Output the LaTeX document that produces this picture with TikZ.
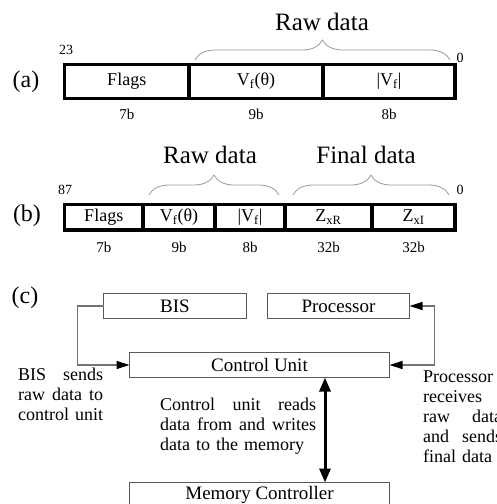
\documentclass[tikz,border=0pt]{standalone}
\usepackage{fontspec}
\setmainfont{Liberation Serif}
\usetikzlibrary{
    positioning,
    arrows.meta,
    decorations.pathreplacing
}
\tikzset{
  cell/.style = {
      draw,
      line width=3.5pt,
      inner sep=0pt,
      outer sep=0pt,
      font=\fontsize{18}{20}\selectfont
  },
  block/.style = {
      draw=black!65,
      line width=1.2pt,
      minimum height=25pt,
      inner sep=0pt,
      outer sep=0pt,
      font=\fontsize{19}{20}\selectfont
  },
  tag/.style = {
      font=\fontsize{24}{26}\selectfont
  },
  bits/.style = {
      inner sep=0pt,
      font=\fontsize{15}{16}\selectfont
  },
  index/.style = {
      inner sep=0pt,
      font=\fontsize{14}{15}\selectfont
  },
  title/.style = {
      font=\fontsize{25}{27}\selectfont
  },
  group/.style = {
      draw=black!40,
      line width=0.8pt,
      decorate,
      decoration={brace, amplitude=20pt}
  },
  note/.style = {
      inner sep=0pt,
      align=left,
      font=\fontsize{18}{20}\selectfont
  },
  link/.style = {
      draw=black!55,
      line width=1.2pt,
      >={Triangle[length=13pt, width=8pt, color=black]}
  },
  bus/.style = {
      line width=3pt,
      >={Triangle[length=14pt, width=11pt]}
  }
}

\begin{document}
\begin{tikzpicture}[x=1pt, y=-1pt]
    \clip (0,0) rectangle (496,504);
    % (a) 24 bit word
    \node[tag] (atag) at (26,82) {(a)};
    \node[cell, minimum width=124.5pt, minimum height=33.7pt] (aflags) at (126.75,81.4) {Flags};
    \node[cell, minimum width=134pt, minimum height=33.7pt, right=0pt of aflags] (aphase) {V\textsubscript{f}(θ)};
    \node[cell, minimum width=132pt, minimum height=33.7pt, right=0pt of aphase] (amag) {|V\textsubscript{f}|};
    \node[index] (atop) at (66,50) {23};
    \node[index] (azero) at (460,58) {0};
    \node[bits, below=11pt of aflags] {7b};
    \node[bits, below=11pt of aphase] {9b};
    \node[bits, below=11pt of amag] {8b};
    \draw[group] (195,60) -- (450,60);
    \node[title] (araw) at (322,22) {Raw data};
    % (b) 88 bit word
    \node[tag] (btag) at (27,216) {(b)};
    \node[cell, minimum width=78.5pt, minimum height=25.5pt] (bflags) at (103.75,217.2) {Flags};
    \node[cell, minimum width=72pt, minimum height=25.5pt, right=0pt of bflags] (bphase) {V\textsubscript{f}(θ)};
    \node[cell, minimum width=70pt, minimum height=25.5pt, right=0pt of bphase] (bmag) {|V\textsubscript{f}|};
    \node[cell, minimum width=87pt, minimum height=25.5pt, right=0pt of bmag] (bre) {Z\textsubscript{xR}};
    \node[cell, minimum width=83pt, minimum height=25.5pt, right=0pt of bre] (bim) {Z\textsubscript{xI}};
    \node[index] (btop) at (65,190) {87};
    \node[index] (bzero) at (460,190) {0};
    \node[bits, below=12pt of bflags] {7b};
    \node[bits, below=12pt of bphase] {9b};
    \node[bits, below=12pt of bmag] {8b};
    \node[bits, below=12pt of bre] {32b};
    \node[bits, below=12pt of bim] {32b};
    \draw[group] (149,195) -- (279,195);
    \draw[group] (293,195) -- (449,195);
    \node[title] (braw) at (210,155) {Raw data};
    \node[title] (bfinal) at (366,155) {Final data};
    % (c) data flow
    \node[tag] (ctag) at (25,298) {(c)};
    \node[block, minimum width=143pt] (bis) at (175,306) {BIS};
    \node[block, minimum width=142pt] (proc) at (338.5,306) {Processor};
    \node[block, minimum width=260pt] (cu) at (259.5,365) {Control Unit};
    \node[block, minimum width=260pt] (mem) at (259.5,495) {Memory Controller};
    % Edges
    \draw[link, ->] (bis.west) -- ++(-26,0) |- (cu.west);
    \draw[link, <->] (cu.east) -- ++(45,0) |- (proc.east);
    \draw[bus, <->] ([xshift=65.5pt]cu.south) -- ([xshift=65.5pt]mem.north);
    % Notes
    \node[note, anchor=north west, text width=85pt] (bisnote) at (18,368)
        {BIS\hfill sends\\raw\hfill data\hfill to\\control unit};
    \node[note, anchor=north west, text width=156pt] (cunote) at (160,398)
        {Control\hfill unit\hfill reads\\data\hfill from\hfill and\hfill writes\\data to the memory};
    \node[note, anchor=north west, text width=79pt] (procnote) at (423,371)
        {Processor\\receives\\raw\hfill data\\and\hfill sends\\final data};
\end{tikzpicture}
\end{document}
